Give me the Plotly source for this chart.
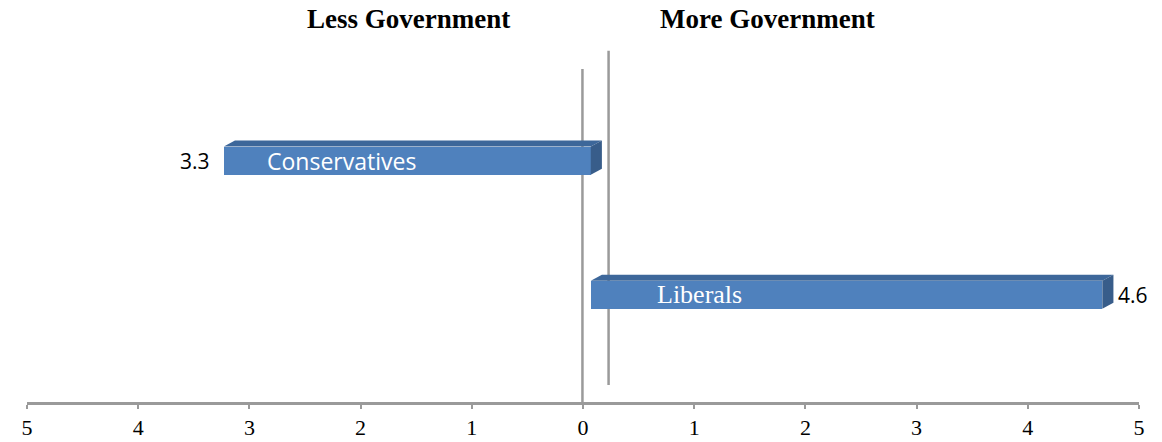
import plotly.graph_objects as go

categories = ["Liberals", "Conservatives"]
values = [4.6, -3.3]
value_labels = ["4.6", "3.3"]
tick_vals = [-5, -4, -3, -2, -1, 0, 1, 2, 3, 4, 5]
tick_text = ["5", "4", "3", "2", "1", "0", "1", "2", "3", "4", "5"]

FRONT = "#4F81BD"
TOP = "#3D679A"
SIDE = "#385D8A"
LINE = "#9A9A9A"

base_shift = 0.07     # 3D front-face offset
depth_x = 0.10        # depth offset (x units)
depth_y = 0.045       # depth offset (y units)
bar_w = 0.21

fig = go.Figure()
fig.add_trace(go.Bar(
    y=categories, x=values, base=[base_shift] * len(values), orientation="h",
    width=bar_w, marker=dict(color=FRONT, line=dict(width=0)),
    hoverinfo="skip", showlegend=False,
))

shapes = []
for i, v in enumerate(values):
    x0 = base_shift
    x1 = base_shift + v
    lo, hi = min(x0, x1), max(x0, x1)
    ytop = i + bar_w / 2
    ybot = i - bar_w / 2
    shapes.append(dict(
        type="path", xref="x", yref="y", layer="above",
        path=f"M {lo},{ytop} L {hi},{ytop} L {hi + depth_x},{ytop + depth_y} L {lo + depth_x},{ytop + depth_y} Z",
        fillcolor=TOP, line=dict(width=0)))
    shapes.append(dict(
        type="path", xref="x", yref="y", layer="above",
        path=f"M {hi},{ytop} L {hi + depth_x},{ytop + depth_y} L {hi + depth_x},{ybot + depth_y} L {hi},{ybot} Z",
        fillcolor=SIDE, line=dict(width=0)))

shapes.append(dict(type="line", xref="x", yref="paper", x0=-0.005, x1=-0.005, y0=0.0, y1=0.92,
                   line=dict(color=LINE, width=2.5), layer="below"))
shapes.append(dict(type="line", xref="x", yref="paper", x0=0.23, x1=0.23, y0=0.047, y1=0.97,
                   line=dict(color=LINE, width=2.5), layer="below"))

title_y = 1.0 + (40 - 19) / 362
annotations = [
    dict(text="<b>Less Government</b>", x=0.343, y=title_y, xref="paper", yref="paper",
         xanchor="center", yanchor="middle", showarrow=False,
         font=dict(family="Liberation Serif", size=27, color="#000")),
    dict(text="<b>More Government</b>", x=0.666, y=title_y, xref="paper", yref="paper",
         xanchor="center", yanchor="middle", showarrow=False,
         font=dict(family="Liberation Serif", size=27, color="#000")),
]
annotations.append(dict(text=value_labels[0], x=base_shift + values[0] + depth_x, y=0,
                        xref="x", yref="y", xanchor="left", showarrow=False, xshift=3,
                        font=dict(family="Open Sans", size=21, color="#000")))
annotations.append(dict(text=value_labels[1], x=base_shift + values[1], y=1,
                        xref="x", yref="y", xanchor="right", showarrow=False, xshift=-12,
                        font=dict(family="Open Sans", size=21, color="#000")))
annotations.append(dict(text=categories[1], x=-2.17, y=1, xref="x", yref="y",
                        xanchor="center", showarrow=False,
                        font=dict(family="Open Sans", size=23, color="#FFFFFF")))
annotations.append(dict(text=categories[0], x=1.05, y=0, xref="x", yref="y",
                        xanchor="center", showarrow=False,
                        font=dict(family="Liberation Serif", size=26, color="#FFFFFF")))

fig.update_layout(
    width=1162, height=442,
    margin=dict(l=27, r=23, t=40, b=40),
    paper_bgcolor="white", plot_bgcolor="white",
    font=dict(family="Liberation Serif", size=22, color="#000"),
    xaxis=dict(range=[-5, 5], tickvals=tick_vals, ticktext=tick_text, automargin=False,
               showgrid=False, zeroline=False, showline=True, linecolor=LINE, linewidth=2.5,
               ticks="outside", ticklen=4, tickcolor=LINE, tickwidth=1.5,
               tickfont=dict(family="Liberation Serif", size=22, color="#000")),
    yaxis=dict(range=[-0.8, 1.9], showticklabels=False, showgrid=False, zeroline=False,
               showline=False, ticks="", automargin=False),
    shapes=shapes, annotations=annotations, bargap=0,
)

fig.write_html("out.html")
